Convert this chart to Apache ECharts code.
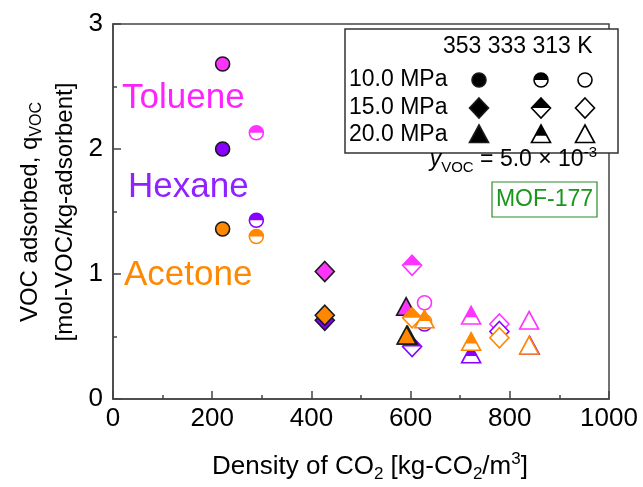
<!DOCTYPE html>
<html>
<head>
<meta charset="utf-8">
<script src="https://cdn.jsdelivr.net/npm/echarts@6/dist/echarts.min.js"></script>
<style>
  html, body { margin: 0; background: #fff; }
  #chart { width: 643px; height: 487px; }
</style>
</head>
<body>
<div id="chart"></div>
<script>
  // conditions: index = pressure * 3 + temperature
  const pressures = ['10.0 MPa', '15.0 MPa', '20.0 MPa'];
  const temperatures = ['353', '333', '313'];

  // CO2 density [kg/m3], adsorbed amount [mol/kg] and condition index of each point
  const tolueneDensity = [221, 289, 628, 427, 603, 779, 591, 722, 839];
  const tolueneQ = [2.68, 2.13, 0.77, 1.02, 1.07, 0.60, 0.73, 0.66, 0.62];
  const tolueneCond = [0, 1, 2, 3, 4, 5, 6, 7, 8];
  const hexaneDensity = [221, 289, 628, 427, 603, 779, 594, 722, 840];
  const hexaneQ = [2.00, 1.43, 0.60, 0.63, 0.42, 0.54, 0.50, 0.35, 0.42];
  const hexaneCond = [0, 1, 2, 3, 4, 5, 6, 7, 8];
  const acetoneDensity = [221, 289, 628, 427, 603, 779, 592, 628, 722, 839];
  const acetoneQ = [1.36, 1.30, 0.62, 0.67, 0.65, 0.49, 0.50, 0.63, 0.45, 0.42];
  const acetoneCond = [0, 1, 2, 3, 4, 5, 6, 7, 7, 8];

  const xTicks = [0, 200, 400, 600, 800, 1000];
  const yTicks = [0, 1, 2, 3];

  const font = '"Liberation Sans", Arial, sans-serif';
  const shapes = ['circle', 'diamond', 'triangle'];   // by pressure
  const fills = ['full', 'half', 'open'];             // by temperature

  // draws one marker as a list of zrender shapes
  function markerShapes(shape, fill, color, cx, cy, z) {
    const edge = fill === 'full' ? '#1a1a1a' : color;
    const body = fill === 'full' ? color : '#fff';
    const lw = 1.6;
    const out = [];
    if (shape === 'circle') {
      const r = 7;
      out.push({ type: 'circle', shape: { cx, cy, r }, style: { fill: body } });
      if (fill === 'half') {
        out.push({ type: 'sector', shape: { cx, cy, r0: 0, r, startAngle: Math.PI, endAngle: Math.PI * 2 }, style: { fill: color } });
      }
      out.push({ type: 'circle', shape: { cx, cy, r }, style: { fill: null, stroke: edge, lineWidth: lw } });
    } else if (shape === 'diamond') {
      const w = 9.5, h = 10;
      const pts = [[cx, cy - h], [cx + w, cy], [cx, cy + h], [cx - w, cy]];
      out.push({ type: 'polygon', shape: { points: pts }, style: { fill: body } });
      if (fill === 'half') {
        out.push({ type: 'polygon', shape: { points: [[cx - w, cy], [cx, cy - h], [cx + w, cy]] }, style: { fill: color } });
      }
      out.push({ type: 'polygon', shape: { points: pts }, style: { fill: null, stroke: edge, lineWidth: lw } });
    } else {
      const w = 9.5, top = 10, bot = 7.5;
      const pts = [[cx, cy - top], [cx + w, cy + bot], [cx - w, cy + bot]];
      out.push({ type: 'polygon', shape: { points: pts }, style: { fill: body } });
      if (fill === 'half') {
        const f = 0.62;
        const ys = cy - top + f * (top + bot);
        out.push({ type: 'polygon', shape: { points: [[cx, cy - top], [cx + w * f, ys], [cx - w * f, ys]] }, style: { fill: color } });
      }
      out.push({ type: 'polygon', shape: { points: pts }, style: { fill: null, stroke: edge, lineWidth: lw } });
    }
    if (z !== undefined) out.forEach(el => { el.z = z; });
    return out;
  }

  function vocSeries(name, color, density, q, cond) {
    return {
      type: 'custom',
      name: name,
      coordinateSystem: 'cartesian2d',
      data: density.map((d, i) => [d, q[i], cond[i]]),
      encode: { x: 0, y: 1 },
      renderItem: function (params, api) {
        const p = api.coord([api.value(0), api.value(1)]);
        const k = api.value(2);
        return {
          type: 'group',
          children: markerShapes(shapes[Math.floor(k / 3)], fills[k % 3], color, p[0], p[1])
        };
      }
    };
  }

  // legend block (decoration)
  const legendItems = [];
  legendItems.push({
    type: 'rect', z: 10,
    shape: { x: 345, y: 29, width: 273, height: 124 },
    style: { fill: '#fff', stroke: '#333', lineWidth: 1.5 }
  });
  legendItems.push({
    type: 'text', z: 11, x: 443, y: 47,
    style: { text: temperatures.join(' ') + ' K', font: '23px ' + font, fill: '#000', textAlign: 'left', textVerticalAlign: 'middle' }
  });
  const rowY = [80, 108, 135];
  const colX = [479, 541, 585];
  pressures.forEach((p, i) => {
    legendItems.push({
      type: 'text', z: 11, x: 349, y: rowY[i],
      style: { text: p, font: '23px ' + font, fill: '#000', textAlign: 'left', textVerticalAlign: 'middle' }
    });
    fills.forEach((f, j) => {
      markerShapes(shapes[i], f, '#000', colX[j], rowY[i], 11).forEach(el => legendItems.push(el));
    });
  });

  const chart = echarts.init(document.getElementById('chart'));
  chart.setOption({
    backgroundColor: '#fff',
    animation: false,
    grid: {
      left: 113, right: 34, top: 24, bottom: 88,
      show: true, borderColor: '#444', borderWidth: 1.5
    },
    xAxis: {
      type: 'value', min: xTicks[0], max: xTicks[xTicks.length - 1], interval: 200,
      axisLine: { lineStyle: { color: '#444', width: 1.5 } },
      axisTick: { inside: true, length: 8, lineStyle: { color: '#444', width: 1.5 } },
      minorTick: { show: true, splitNumber: 2, length: 4, lineStyle: { color: '#444', width: 1.5 } },
      splitLine: { show: false },
      axisLabel: { color: '#000', fontSize: 26, fontFamily: font, margin: 7, formatter: v => String(v) }
    },
    yAxis: {
      type: 'value', min: yTicks[0], max: yTicks[yTicks.length - 1], interval: 1,
      axisLine: { lineStyle: { color: '#444', width: 1.5 } },
      axisTick: { inside: true, length: 8, lineStyle: { color: '#444', width: 1.5 } },
      minorTick: { show: true, splitNumber: 2, length: 4, lineStyle: { color: '#444', width: 1.5 } },
      splitLine: { show: false },
      axisLabel: { color: '#000', fontSize: 26, fontFamily: font, margin: 10, padding: [0, 0, 10, 0], formatter: v => String(v) }
    },
    graphic: [
      {
        type: 'text', x: 370, y: 467,
        style: {
          text: '{n|Density of CO}{s|2}{n| [kg-CO}{s|2}{n|/m}{p|3}{n|]}',
          textAlign: 'center', textVerticalAlign: 'middle', fill: '#000',
          rich: {
            n: { fontSize: 26, fontFamily: font, lineHeight: 32, fill: '#000' },
            s: { fontSize: 17, fontFamily: font, lineHeight: 32, verticalAlign: 'bottom', fill: '#000' },
            p: { fontSize: 17, fontFamily: font, lineHeight: 32, verticalAlign: 'top', fill: '#000' }
          }
        }
      },
      {
        type: 'text', x: 30, y: 212, rotation: Math.PI / 2,
        style: {
          text: '{n|VOC adsorbed, q}{s|VOC}',
          textAlign: 'center', textVerticalAlign: 'middle', fill: '#000',
          rich: {
            n: { fontSize: 24, fontFamily: font, lineHeight: 30, fill: '#000' },
            s: { fontSize: 16, fontFamily: font, lineHeight: 30, verticalAlign: 'bottom', fill: '#000' }
          }
        }
      },
      {
        type: 'text', x: 65, y: 212, rotation: Math.PI / 2,
        style: { text: '[mol-VOC/kg-adsorbent]', font: '24px ' + font, fill: '#000', textAlign: 'center', textVerticalAlign: 'middle' }
      },
      {
        type: 'text', x: 122, y: 98,
        style: { text: 'Toluene', font: '35px ' + font, fill: '#ff22ff', textAlign: 'left', textVerticalAlign: 'middle' }
      },
      {
        type: 'text', x: 128, y: 187,
        style: { text: 'Hexane', font: '35px ' + font, fill: '#9022ff', textAlign: 'left', textVerticalAlign: 'middle' }
      },
      {
        type: 'text', x: 124, y: 275,
        style: { text: 'Acetone', font: '35px ' + font, fill: '#ff8800', textAlign: 'left', textVerticalAlign: 'middle' }
      },
      {
        type: 'text', x: 597, y: 160, z: 11,
        style: {
          text: '{i|y}{s|VOC}{n| = 5.0 × 10}{p|-3}',
          textAlign: 'right', textVerticalAlign: 'middle', fill: '#000',
          rich: {
            i: { fontSize: 23, fontFamily: font, fontStyle: 'italic', lineHeight: 30, fill: '#000' },
            n: { fontSize: 23, fontFamily: font, lineHeight: 30, fill: '#000' },
            s: { fontSize: 15, fontFamily: font, lineHeight: 30, verticalAlign: 'bottom', fill: '#000' },
            p: { fontSize: 15, fontFamily: font, lineHeight: 30, verticalAlign: 'top', fill: '#000' }
          }
        }
      },
      {
        type: 'rect', z: 10,
        shape: { x: 492, y: 182, width: 105, height: 35 },
        style: { fill: '#fff', stroke: '#2a8c2a', lineWidth: 1.2 }
      },
      {
        type: 'text', x: 544.5, y: 200, z: 11,
        style: { text: 'MOF-177', font: '23px ' + font, fill: '#1a961a', textAlign: 'center', textVerticalAlign: 'middle' }
      }
    ].concat(legendItems),
    series: [
      vocSeries('Toluene', '#ff33ff', tolueneDensity, tolueneQ, tolueneCond),
      vocSeries('Hexane', '#8800ff', hexaneDensity, hexaneQ, hexaneCond),
      vocSeries('Acetone', '#ff8800', acetoneDensity, acetoneQ, acetoneCond)
    ]
  });
</script>
</body>
</html>
